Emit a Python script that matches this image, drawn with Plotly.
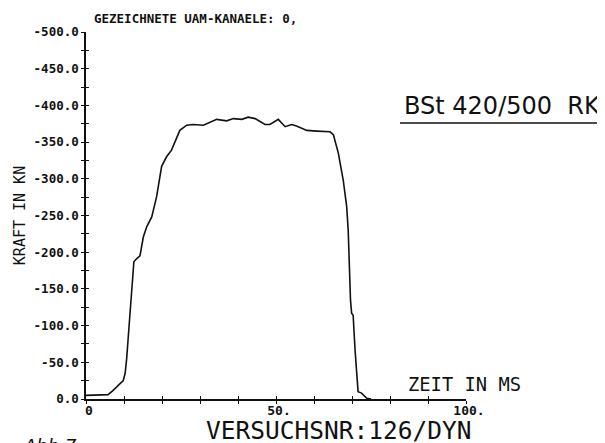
import plotly.graph_objects as go

# Data (time in ms, force in kN)
time_ms = [0, 5.0, 5.8, 7.0, 8.0, 9.0, 9.8, 10.3, 10.7, 11.2, 11.7, 12.2, 12.6,
           13.3, 14.2, 15.1, 16.0, 17.3, 18.6, 19.9, 21.2, 22.5, 23.4, 24.7,
           26.5, 28.2, 30.9, 32.2, 34.4, 37.0, 38.8, 41.0, 42.7, 44.5, 47.1,
           48.4, 50.6, 52.4, 54.1, 55.4, 58.1, 60.7, 64.2, 65.1, 66.4, 67.7,
           68.6, 69.0, 69.3, 69.6, 69.9, 70.3, 70.8, 71.6, 72.5, 73.9, 75.0]
force_kn = [-5, -5, -6, -11, -16, -20, -25, -35, -55, -90, -125, -160, -187,
            -191, -195, -221, -235, -248, -276, -317, -330, -339, -351, -366,
            -373, -374, -373, -376, -381, -379, -382, -381, -384, -382, -374,
            -374, -381, -371, -374, -372, -366, -365, -364, -360, -335, -298,
            -262, -230, -162, -135, -117, -114, -67, -10, -8, -1, 0]

y_tickvals = [-500 + 25 * i for i in range(21)]
y_ticktext = [("%.1f" % v).replace("-0.0", "0.0") if v % 50 == 0 else "" for v in y_tickvals]
x_tickvals = [10 * i for i in range(11)]
x_ticktext = ["0", "", "", "", "", "50.", "", "", "", "", "100."]

title_top = "GEZEICHNETE UAM-KANAELE: 0,"
label_material = "BSt 420/500  RK"
label_xaxis = "ZEIT IN MS"
label_yaxis = "KRAFT IN KN"
label_test = "VERSUCHSNR:126/DYN"
label_fig = "Abb.7"

# page geometry: the figure sits at an 8px body margin inside the window
OFF = 8
PAGE_W, PAGE_H = 605, 443
W, H = PAGE_W - OFF, PAGE_H - OFF
# plot-area edges in page pixels
PL, PR, PT, PB = 86, 466, 32, 399
L, R, T, B = PL - OFF, PR - OFF, PT - OFF, PB - OFF


def px(x):
    return (x - PL) / (PR - PL)


def py(y):
    return (PB - y) / (PB - PT)


INK = "#111111"
MONO = "DejaVu Sans Mono"

fig = go.Figure()
fig.add_trace(go.Scatter(x=time_ms, y=force_kn, mode="lines",
                         line=dict(color=INK, width=1.6), showlegend=False,
                         hoverinfo="skip"))
# invisible trace to anchor overlay axes
fig.add_trace(go.Scatter(x=[0], y=[0], xaxis="x2", yaxis="y2", mode="markers",
                         marker=dict(opacity=0), showlegend=False, hoverinfo="skip"))

fig.update_layout(
    width=W, height=H,
    margin=dict(l=L, r=W - R, t=T, b=H - B, autoexpand=False),
    paper_bgcolor="white", plot_bgcolor="white",
    font=dict(family=MONO, color=INK, size=13),
    xaxis=dict(range=[0, 100], showgrid=False, zeroline=False, automargin=False,
               showline=True, linecolor=INK, linewidth=1.5,
               tickmode="array", tickvals=x_tickvals, ticktext=x_ticktext,
               ticks="outside", ticklen=3, tickwidth=1.3, tickcolor=INK,
               ticklabelstandoff=-4, ticklabelshift=3,
               tickfont=dict(family=MONO, size=13, color=INK, weight="bold")),
    yaxis=dict(range=[0, -500], showgrid=False, zeroline=False, automargin=False,
               showline=True, linecolor=INK, linewidth=1.5,
               tickmode="array", tickvals=y_tickvals, ticktext=y_ticktext,
               ticks="outside", ticklen=3, tickwidth=1.3, tickcolor=INK,
               tickfont=dict(family=MONO, size=12.5, color=INK, weight="bold"),
               title=dict(text=label_yaxis, font=dict(family=MONO, size=15, color=INK),
                          standoff=4)),
    xaxis2=dict(range=[0, 100], overlaying="x", anchor="y", side="bottom",
                showgrid=False, zeroline=False, showline=False, automargin=False,
                tickmode="array", tickvals=x_tickvals, showticklabels=False,
                ticks="inside", ticklen=3, tickwidth=1.3, tickcolor=INK),
    yaxis2=dict(range=[0, -500], overlaying="y", anchor="x", side="left",
                showgrid=False, zeroline=False, showline=False, automargin=False,
                tickmode="array", tickvals=y_tickvals, showticklabels=False,
                ticks="inside", ticklen=3, tickwidth=1.3, tickcolor=INK),
    annotations=[
        dict(text=title_top, xref="paper", yref="paper", x=px(92), y=py(18),
             xanchor="left", yanchor="middle", showarrow=False,
             font=dict(family=MONO, size=12.5, color=INK, weight="bold")),
        dict(text=label_material, xref="paper", yref="paper", x=px(402), y=py(106),
             xanchor="left", yanchor="middle", showarrow=False,
             font=dict(family="DejaVu Sans", size=24, color=INK)),
        dict(text=label_xaxis, xref="paper", yref="paper", x=px(406), y=py(384),
             xanchor="left", yanchor="middle", showarrow=False,
             font=dict(family=MONO, size=18.8, color=INK)),
        dict(text=label_test, xref="paper", yref="paper", x=px(339), y=py(430),
             xanchor="center", yanchor="middle", showarrow=False,
             font=dict(family=MONO, size=24.5, color=INK)),
        dict(text=label_fig, xref="paper", yref="paper", x=px(21), y=py(433),
             xanchor="left", yanchor="top", showarrow=False,
             font=dict(family="DejaVu Sans", size=18, color=INK, style="italic")),
    ],
    shapes=[
        dict(type="line", xref="paper", yref="paper", x0=px(400), x1=px(605),
             y0=py(123), y1=py(123), line=dict(color=INK, width=1.5)),
    ],
)

fig.write_html("out.html")
